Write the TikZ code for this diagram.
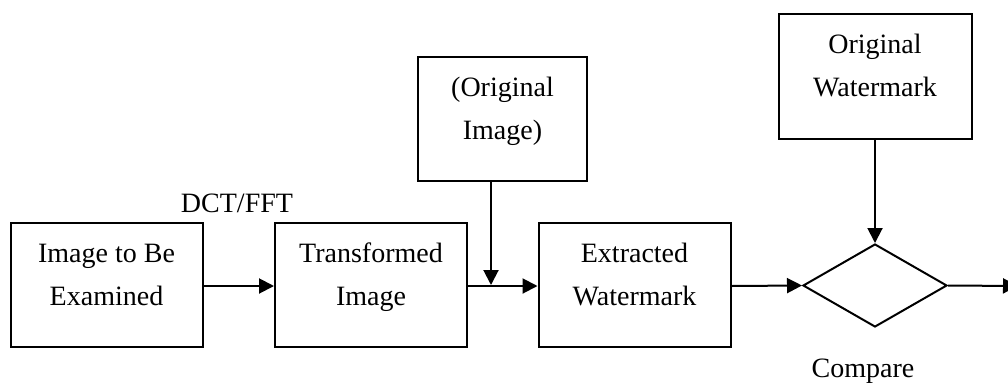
\documentclass[tikz,border=0pt]{standalone}
\usepackage{fontspec}
\setmainfont{Liberation Serif}
\usetikzlibrary{shapes.geometric,arrows.meta,calc}
\begin{document}
\begin{tikzpicture}[x=1pt,y=-1pt,
  box/.style={draw,line width=2pt,minimum width=192pt,minimum height=124pt,inner sep=0pt},
  txt/.style={font=\fontsize{28}{43}\selectfont,align=center,inner sep=0pt,anchor=base},
  dia/.style={draw,line width=2pt,diamond,minimum width=144pt,minimum height=83pt,inner sep=0pt},
  arr/.style={line width=2pt,-{Triangle[length=15pt,width=15pt]}}]
\useasboundingbox (0,0) rectangle (1008,383);
\node[box] (b1) at (106.5,285) {};
\node[box] (b2) at (371,285) {};
\node[box] (b3) at (634.5,285) {};
\node[box,minimum width=169pt] (oi) at (502.5,119) {};
\node[box,minimum width=193pt,minimum height=125pt] (ow) at (875,76.5) {};
\node[dia] (cmp) at (875,285.5) {};
\node[txt] (t1) at ($(b1.north)+(0,83)$) {Image to Be\\Examined};
\node[txt] (t2) at ($(b2.north)+(0,83)$) {Transformed\\Image};
\node[txt] (t3) at ($(b3.north)+(0,83)$) {Extracted\\Watermark};
\node[txt] (t4) at ($(oi.north)+(0,83)$) {(Original\\Image)};
\node[txt] (t5) at ($(ow.north)+(0,83)$) {Original\\Watermark};
\node[txt] (l1) at (237,212) {DCT/FFT};
\node[txt] (l2) at (863,377) {Compare};
\coordinate (j) at (491,286);
\coordinate (out) at (1018,286);
\draw[arr] (b1.east |- j) -- (b2.west |- j);
\draw[arr] (b2.east |- j) -- (b3.west |- j);
\draw[arr] (oi.south -| j) -- ($(j)+(0,-1)$);
\draw[arr] (b3.east |- j) -- (cmp.west);
\draw[arr] (ow.south) -- (cmp.north);
\draw[arr] (cmp.east) -- (out);
\end{tikzpicture}
\end{document}
